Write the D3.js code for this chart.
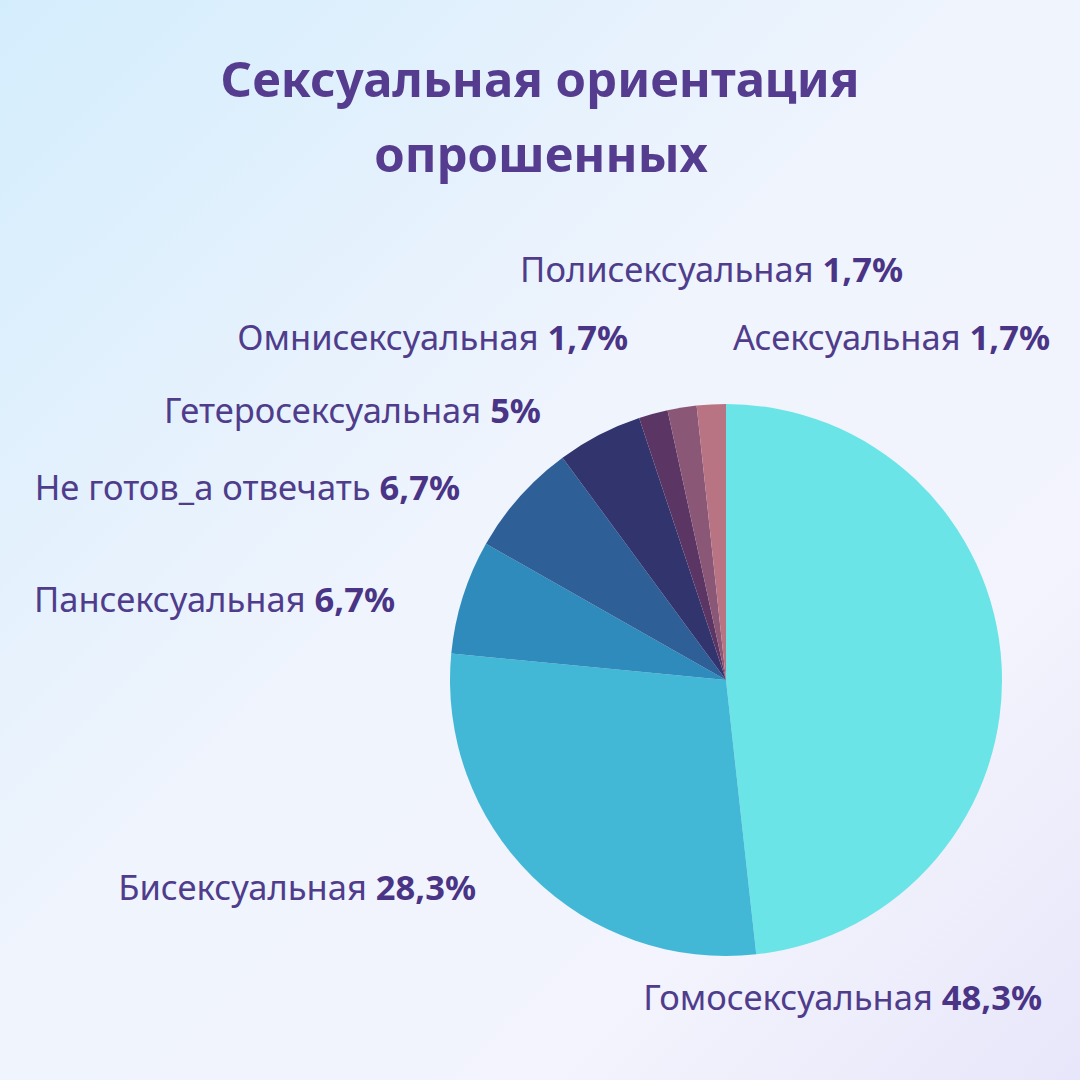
<!DOCTYPE html>
<html>
<head>
<meta charset="utf-8">
<script src="https://cdn.jsdelivr.net/npm/d3@7"></script>
<style>
  html, body { margin: 0; padding: 0; }
  body { width: 1080px; height: 1080px; overflow: hidden; }
</style>
</head>
<body>
<svg id="chart" width="1080" height="1080"></svg>
<script>
// данные
var categories = ["Гомосексуальная", "Бисексуальная", "Пансексуальная", "Не готов_а отвечать",
	"Гетеросексуальная", "Омнисексуальная", "Полисексуальная", "Асексуальная"]
var values = [48.3, 28.3, 6.7, 6.7, 5, 1.7, 1.7, 1.7]
var valueLabels = ["48,3%", "28,3%", "6,7%", "6,7%", "5%", "1,7%", "1,7%", "1,7%"]
var colors = ["#6ae4e7", "#42b8d6", "#2e8bbb", "#2e5f97", "#32346e", "#5b3564", "#8a5777", "#b97484"]

// где стоят подписи (правый край текста, базовая линия)
var labelPos = [[1042, 1010], [476, 900], [395, 612], [460, 500], [541, 423], [628, 350], [903, 282], [1050, 350]]

var svg = d3.select("#chart")
var defs = svg.append("defs")
var bg = defs.append("linearGradient")
	.attr("id", "bg")
	.attr("x1", "0%").attr("y1", "0%")
	.attr("x2", "100%").attr("y2", "100%")
bg.append("stop").attr("offset", "0%").attr("stop-color", "#d4edfd")
bg.append("stop").attr("offset", "45%").attr("stop-color", "#eff4fd")
bg.append("stop").attr("offset", "75%").attr("stop-color", "#f3f4fd")
bg.append("stop").attr("offset", "100%").attr("stop-color", "#e8e6fa")

svg.append("rect")
	.attr("width", 1080)
	.attr("height", 1080)
	.style("fill", "url(#bg)")

// заголовок
var title = svg.append("text")
	.attr("text-anchor", "middle")
	.style("font-family", "'Noto Sans', sans-serif")
	.style("font-weight", "700")
	.style("font-size", "49px")
	.style("fill", "#553c8f")
title.append("tspan").attr("x", 540).attr("y", 97).text("Сексуальная ориентация")
title.append("tspan").attr("x", 541).attr("y", 172).text("опрошенных")

// пирог
var cx = 726, cy = 680, radius = 276
var pie = d3.pie().sort(null).value(function (d) { return d })
var arc = d3.arc().innerRadius(0).outerRadius(radius)

var g = svg.append("g").attr("transform", "translate(" + cx + "," + cy + ")")
g.selectAll("path")
	.data(pie(values))
	.enter().append("path")
	.attr("d", arc)
	.style("fill", function (d, i) { return colors[i] })

// подписи
var labels = svg.append("g")
	.style("font-family", "'Noto Sans', sans-serif")
	.style("font-size", "34.5px")
	.selectAll("text")
	.data(categories)
	.enter().append("text")
	.attr("x", function (d, i) { return labelPos[i][0] })
	.attr("y", function (d, i) { return labelPos[i][1] })
	.attr("text-anchor", "end")
	.style("fill", "#4f3d8c")

labels.append("tspan").text(function (d) { return d + " " })
labels.append("tspan")
	.style("font-weight", "700")
	.style("fill", "#4a3486")
	.text(function (d, i) { return valueLabels[i] })
</script>
</body>
</html>
